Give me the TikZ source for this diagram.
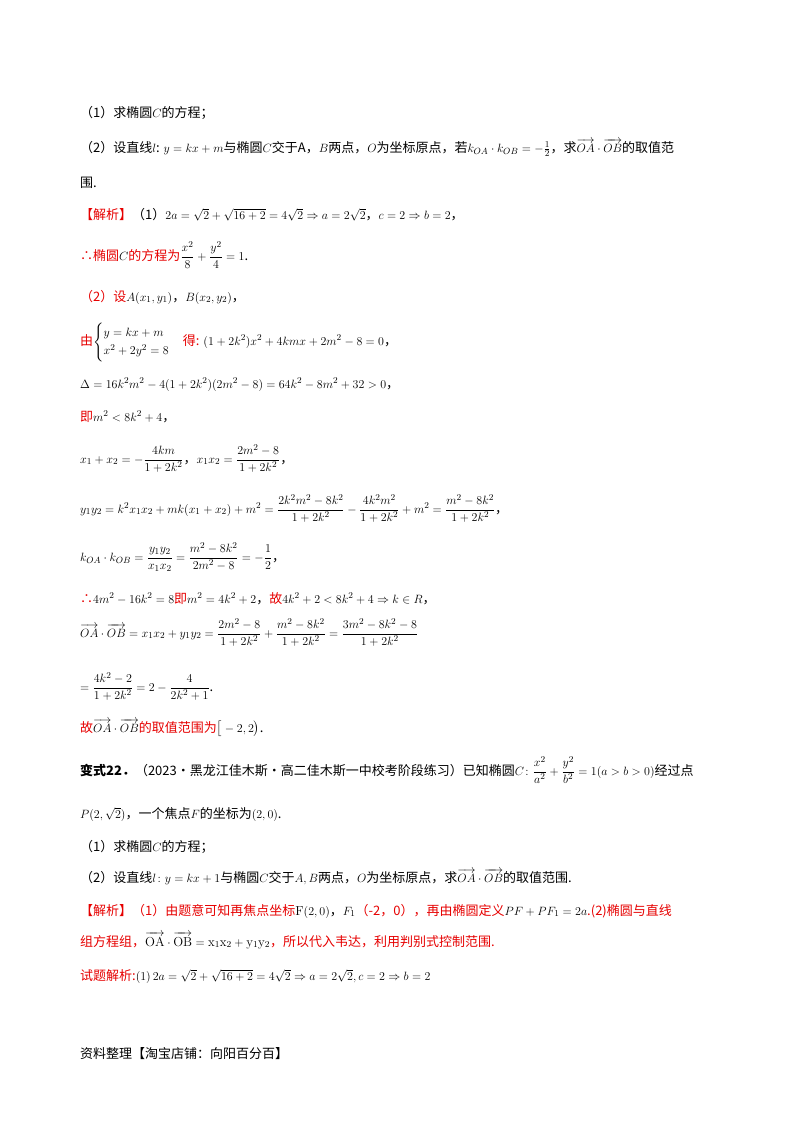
\documentclass[tikz,border=0pt]{standalone}
\usepackage{amsmath,amssymb}
\usepackage{fontspec}
\newfontfamily\cjk{Noto Sans CJK SC}
\definecolor{rd}{RGB}{230,0,0}
\newcommand{\R}[1]{\textcolor{rd}{#1}}
\newcommand{\vOA}{\overrightarrow{OA}}
\newcommand{\vOB}{\overrightarrow{OB}}
\begin{document}
\begin{tikzpicture}[x=1pt,y=-1pt,
  ln/.style={anchor=base west,inner sep=0pt,font=\cjk\fontsize{13}{15}\selectfont}]
\useasboundingbox (0,0) rectangle (800,1132);
\node[ln] (l1) at (80,117) {（1）求椭圆$C$的方程；};
\node[ln] (l2) at (80,152) {（2）设直线$l$: $y=kx+m$与椭圆$C$交于A，$B$两点，$O$为坐标原点，若$k_{OA}\cdot k_{OB}=-\frac12$，求$\vOA\cdot\vOB$的取值范};
\node[ln] (l3) at (80,187) {围.};
\node[ln] (l4) at (80,219) {\R{【解析】}（1）$2a=\sqrt2+\sqrt{16+2}=4\sqrt2\Rightarrow a=2\sqrt2$，$c=2\Rightarrow b=2$，};
\node[ln] (l5) at (80,260) {\R{∴椭圆}$C$\R{的方程为}$\dfrac{x^2}{8}+\dfrac{y^2}{4}=1$.};
\node[ln] (l6) at (80,301) {\R{（2）设}$A(x_1,y_1)$，$B(x_2,y_2)$，};
\node[ln] (l7) at (80,345) {\R{由}$\begin{cases}y=kx+m\\x^2+2y^2=8\end{cases}$\R{得:} $(1+2k^2)x^2+4kmx+2m^2-8=0$，};
\node[ln] (l8) at (80,388) {$\Delta=16k^2m^2-4(1+2k^2)(2m^2-8)=64k^2-8m^2+32>0$，};
\node[ln] (l9) at (80,421) {\R{即}$m^2<8k^2+4$，};
\node[ln] (l10) at (80,463) {$x_1+x_2=-\dfrac{4km}{1+2k^2}$，$x_1x_2=\dfrac{2m^2-8}{1+2k^2}$，};
\node[ln] (l11) at (80,513) {$y_1y_2=k^2x_1x_2+mk(x_1+x_2)+m^2=\dfrac{2k^2m^2-8k^2}{1+2k^2}-\dfrac{4k^2m^2}{1+2k^2}+m^2=\dfrac{m^2-8k^2}{1+2k^2}$，};
\node[ln] (l12) at (80,561) {$k_{OA}\cdot k_{OB}=\dfrac{y_1y_2}{x_1x_2}=\dfrac{m^2-8k^2}{2m^2-8}=-\dfrac12$，};
\node[ln] (l13) at (80,603) {\R{∴}$4m^2-16k^2=8$\R{即}$m^2=4k^2+2$，\R{故}$4k^2+2<8k^2+4\Rightarrow k\in R$，};
\node[ln] (l14) at (80,637) {$\vOA\cdot\vOB=x_1x_2+y_1y_2=\dfrac{2m^2-8}{1+2k^2}+\dfrac{m^2-8k^2}{1+2k^2}=\dfrac{3m^2-8k^2-8}{1+2k^2}$};
\node[ln] (l15) at (80,691) {$=\dfrac{4k^2-2}{1+2k^2}=2-\dfrac{4}{2k^2+1}$.};
\node[ln] (l16) at (80,732) {\R{故}$\vOA\cdot\vOB$\R{的取值范围为}$\big[-2,2\big)$.};
\node[ln] (l17) at (80,775) {\textbf{变式22．}（2023·黑龙江佳木斯·高二佳木斯一中校考阶段练习）已知椭圆$C\colon\dfrac{x^2}{a^2}+\dfrac{y^2}{b^2}=1(a>b>0)$经过点};
\node[ln] (l18) at (80,818) {$P(2,\sqrt2)$，一个焦点$F$的坐标为$(2,0)$.};
\node[ln] (l19) at (80,851) {（1）求椭圆$C$的方程；};
\node[ln] (l20) at (80,882) {（2）设直线$l\colon y=kx+1$与椭圆$C$交于$A,B$两点，$O$为坐标原点，求$\vOA\cdot\vOB$的取值范围.};
\node[ln] (l21) at (80,915) {\R{【解析】（1）由题意可知再焦点坐标}$\mathrm{F}(2,0)$，$F_1$\R{（-2，0），再由椭圆定义}$PF+PF_1=2a$\R{.(2)椭圆与直线}};
\node[ln] (l22) at (80,946) {\R{组方程组，}$\overrightarrow{\mathrm{OA}}\cdot\overrightarrow{\mathrm{OB}}=\mathrm{x_1x_2+y_1y_2}$\R{，所以代入韦达，利用判别式控制范围.}};
\node[ln] (l23) at (80,980) {\R{试题解析:}$(1)\,2a=\sqrt2+\sqrt{16+2}=4\sqrt2\Rightarrow a=2\sqrt2,c=2\Rightarrow b=2$};
\node[ln] (l24) at (80,1058) {资料整理【淘宝店铺：向阳百分百】};
\end{tikzpicture}
\end{document}
